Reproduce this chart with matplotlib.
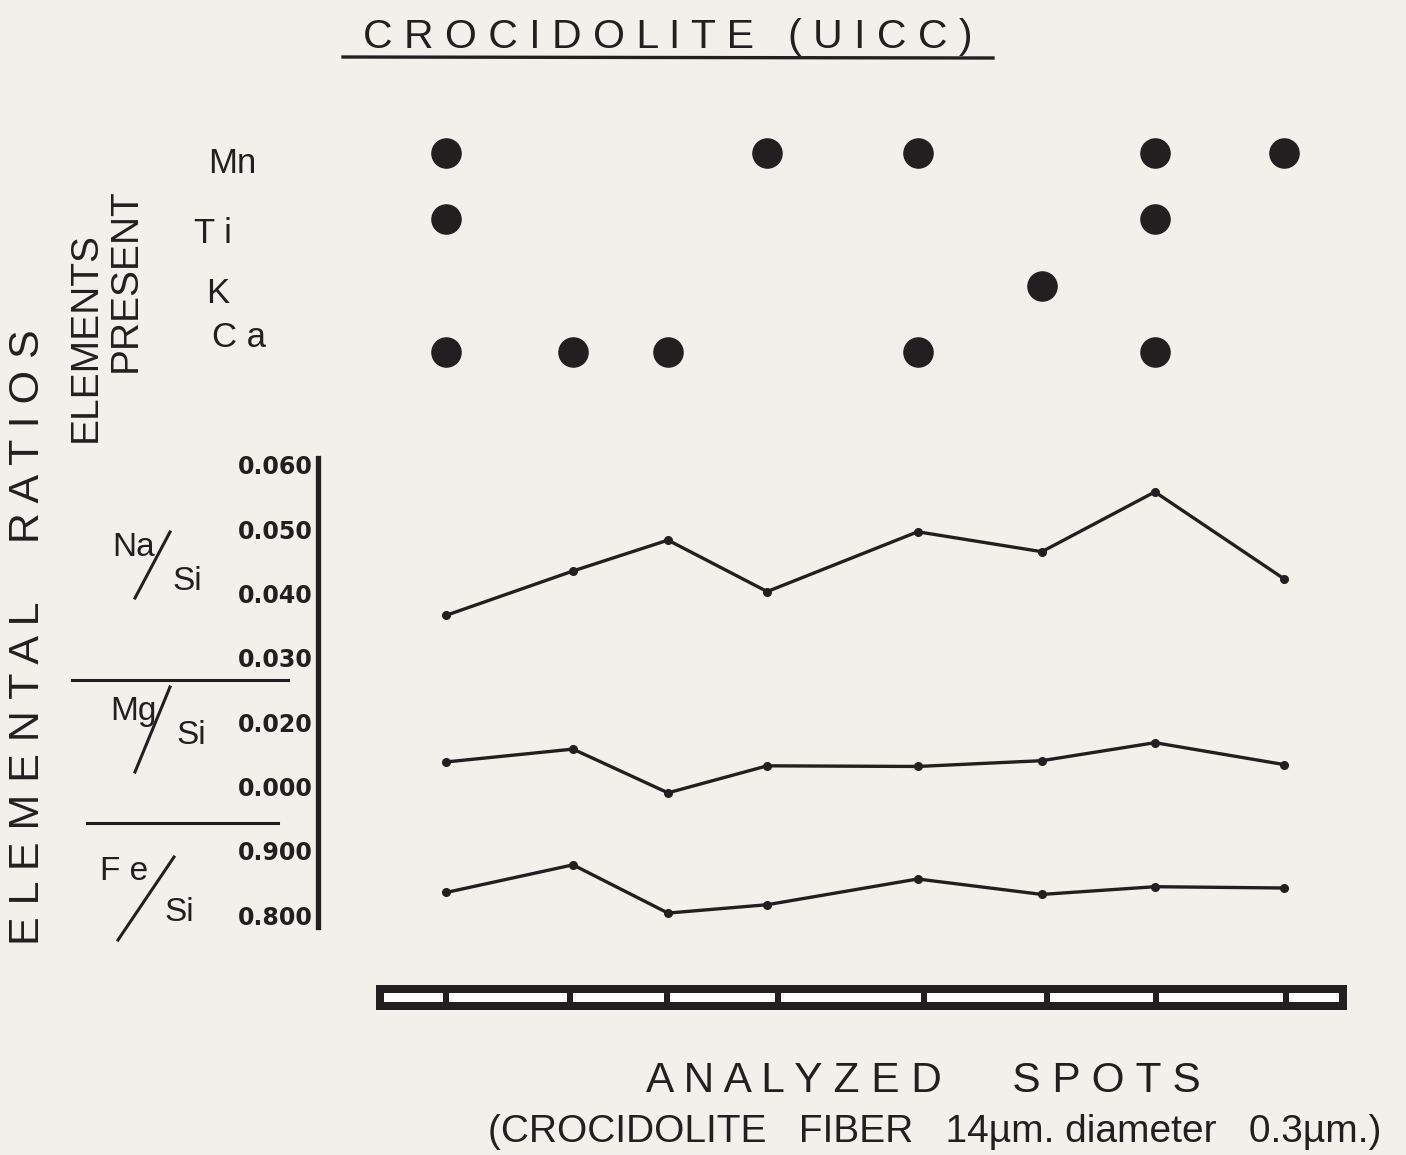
import matplotlib
matplotlib.use('Agg')
import matplotlib.pyplot as plt
from matplotlib.lines import Line2D
from matplotlib.patches import Rectangle

# ---------------- data ----------------
# analyzed spot positions along the fibre (µm, fibre length 14 µm)
spots = [1.01, 2.84, 4.21, 5.64, 7.81, 9.60, 11.23, 13.09]
# segment boundaries drawn in the fibre bar (µm)
bar_bounds = [1.01, 2.80, 4.20, 5.80, 7.90, 9.67, 11.25, 13.12]
fiber_length = 14.0

na_si = [0.0366, 0.0435, 0.0483, 0.0403, 0.0496, 0.0465, 0.0558, 0.0423]
mg_si = [0.0138, 0.0158, 0.0090, 0.0132, 0.0131, 0.0140, 0.0168, 0.0134]
fe_si = [0.835, 0.878, 0.803, 0.816, 0.856, 0.832, 0.844, 0.842]

# elements present (1-based spot numbers)
element_rows = ['Ca', 'K', 'Ti', 'Mn']
element_labels = ['C a', 'K', 'T i', 'Mn']
mn_spots = [1, 4, 5, 7, 8]
ti_spots = [1, 7]
k_spots = [6]
ca_spots = [1, 2, 3, 5, 7]

na_mg_ticks = [0.010, 0.020, 0.030, 0.040, 0.050, 0.060]
na_mg_ticklabels = ['0.000', '0.020', '0.030', '0.040', '0.050', '0.060']
fe_ticks = [0.800, 0.900]
fe_ticklabels = ['0.800', '0.900']

# ---------------- style ----------------
W, H, DPI = 1406, 1155, 100
BG = '#f3f0eb'
INK = '#231f20'
FONT = 'Liberation Sans'
plt.rcParams['font.family'] = [FONT, 'DejaVu Sans']


def fx(x):
    return x / W


def fy(y):
    return 1 - y / H


fig = plt.figure(figsize=(W / DPI, H / DPI), dpi=DPI, facecolor=BG)

# ---------------- ratios axes ----------------
ax = fig.add_axes([fx(376), fy(935), 971 / W, 480 / H])
ax.set_facecolor('none')
ax.set_xlim(0, fiber_length)
ax.set_ylim(-0.01311, 0.06154)
ax_fe = ax.twinx()
ax_fe.set_ylim(0.7689, 1.5154)
ax_fe.set_facecolor('none')

for a in (ax, ax_fe):
    for s in a.spines.values():
        s.set_visible(False)
    a.set_xticks([])

out_pts = 58 * 72 / DPI
ax.spines['left'].set_visible(True)
ax.spines['left'].set_position(('outward', out_pts))
ax.spines['left'].set_bounds(-0.01187, 0.06107)
ax.spines['left'].set_linewidth(3.8)
ax.spines['left'].set_color(INK)

ax.set_yticks(na_mg_ticks)
ax.set_yticklabels(na_mg_ticklabels)
ax.tick_params(axis='y', length=0, pad=4, labelsize=17, labelcolor=INK)
ax_fe.yaxis.tick_left()
ax_fe.set_yticks(fe_ticks)
ax_fe.set_yticklabels(fe_ticklabels)
ax_fe.tick_params(axis='y', length=0, pad=4 + out_pts, labelsize=17, labelcolor=INK)
for lab in ax.get_yticklabels() + ax_fe.get_yticklabels():
    lab.set_fontweight('bold')
    lab.set_family('DejaVu Sans')

line_kw = dict(color=INK, lw=2.4, marker='o', ms=5.5, solid_joinstyle='miter')
ax.plot(spots, na_si, **line_kw)
ax.plot(spots, mg_si, **line_kw)
ax_fe.plot(spots, fe_si, **line_kw)

# ---------------- elements present ----------------
ax_el = fig.add_axes([fx(376), fy(385), 971 / W, 265 / H])
ax_el.set_xlim(0, fiber_length)
ax_el.set_ylim(-0.5, 3.5)
ax_el.axis('off')
presence = {'Mn': mn_spots, 'Ti': ti_spots, 'K': k_spots, 'Ca': ca_spots}
for row, name in enumerate(element_rows):
    xs = [spots[i - 1] for i in presence[name]]
    ax_el.plot(xs, [row] * len(xs), 'o', color=INK, ms=21, mec=INK)

# ---------------- fibre bar ----------------
ax_bar = fig.add_axes([fx(376), fy(1010), 971 / W, 25 / H])
ax_bar.set_xlim(0, fiber_length)
ax_bar.set_ylim(0, 1)
ax_bar.axis('off')
ax_bar.add_patch(Rectangle((0, 0), fiber_length, 1, fc=INK, ec='none'))
edges = [0.0] + bar_bounds + [fiber_length]
for i in range(len(edges) - 1):
    a, b = edges[i], edges[i + 1]
    ia = 0.12 if i == 0 else 0.045
    ib = 0.12 if i == len(edges) - 2 else 0.045
    ax_bar.add_patch(Rectangle((a + ia, 0.32), (b - ib) - (a + ia), 0.36,
                               fc='white', ec='none'))

# ---------------- texts ----------------
fig.text(fx(668), fy(48), 'C R O C I D O L I T E   ( U I C C )', ha='center',
         va='baseline', fontsize=29.5, color=INK)
fig.add_artist(Line2D([fx(343), fx(993)], [fy(57), fy(58)], color=INK, lw=2.4,
                      transform=fig.transFigure))

fig.text(fx(28), fy(637), 'E L E M E N T A L     R A T I O S', rotation=90,
         ha='center', va='center', fontsize=31, color=INK)
fig.text(fx(86), fy(337), 'ELEMENTS', rotation=90, ha='center', va='center',
         fontsize=28, color=INK)
fig.text(fx(126), fy(280), 'PRESENT', rotation=90, ha='center', va='center',
         fontsize=28, color=INK)

# element row labels
label_pos = {'Mn': (208, 173), 'T i': (194, 243), 'K': (206, 303), 'C a': (212, 347)}
for lab in element_labels:
    x, y = label_pos[lab]
    fig.text(fx(x), fy(y), lab, ha='left', va='baseline', fontsize=25, color=INK)

# ratio labels
def ratio_label(top, tx, ty, sx, sy, l0, l1):
    fig.text(fx(tx), fy(ty), top, ha='left', va='baseline', fontsize=24, color=INK)
    fig.text(fx(sx), fy(sy), 'Si', ha='left', va='baseline', fontsize=24, color=INK)
    fig.add_artist(Line2D([fx(l0[0]), fx(l1[0])], [fy(l0[1]), fy(l1[1])],
                          color=INK, lw=2.2, transform=fig.transFigure))

ratio_label('Na', 112, 556, 172, 590, (135, 598), (170, 532))
ratio_label('Mg', 110, 720, 176, 744, (135, 772), (170, 687))
ratio_label('F e', 100, 880, 164, 921, (118, 940), (174, 857))

fig.add_artist(Line2D([fx(72), fx(288)], [fy(680), fy(680)], color=INK, lw=2.2,
                      transform=fig.transFigure))
fig.add_artist(Line2D([fx(87), fx(278)], [fy(823), fy(823)], color=INK, lw=2.2,
                      transform=fig.transFigure))

fig.text(fx(923), fy(1092), 'A N A L Y Z E D      S P O T S', ha='center',
         va='baseline', fontsize=30.5, color=INK)
fig.text(fx(935), fy(1142), '(CROCIDOLITE   FIBER   14µm. diameter   0.3µm.)',
         ha='center', va='baseline', fontsize=28, color=INK)

fig.savefig('out.png', dpi=DPI, facecolor=BG)
